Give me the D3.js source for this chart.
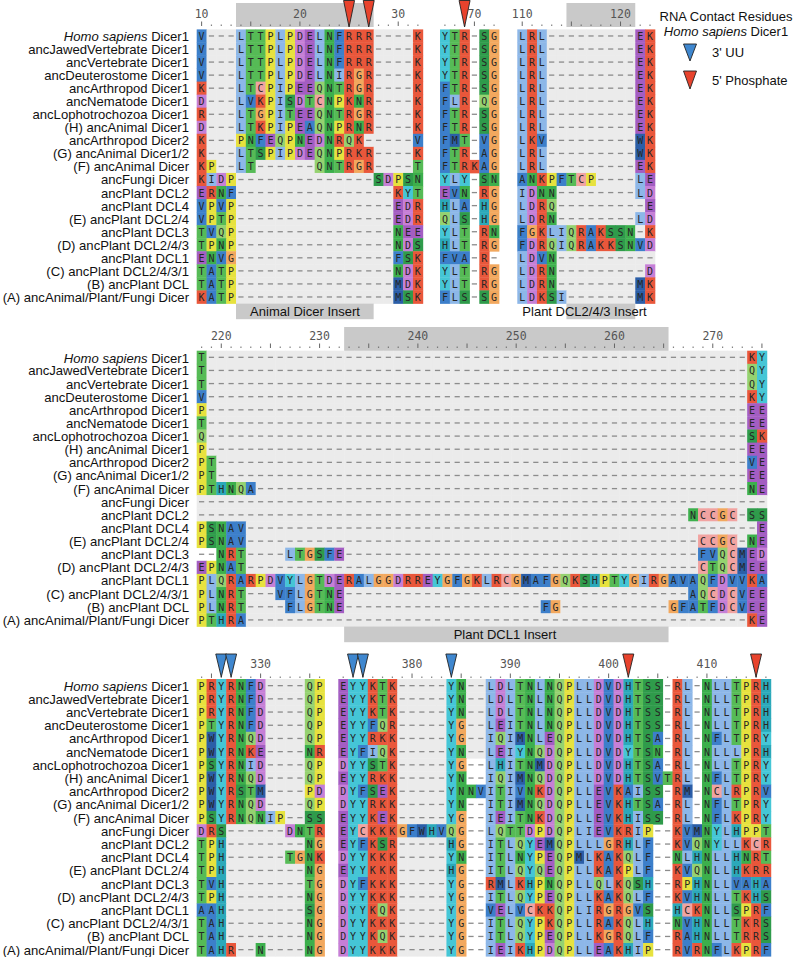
<!DOCTYPE html>
<html><head><meta charset="utf-8">
<script src="https://cdn.jsdelivr.net/npm/d3@7"></script>
<style>body{margin:0;background:#fff;} svg{display:block;}</style>
</head><body>
<svg id="chart" width="800" height="957"></svg>
<script>
// ---------------- DATA ----------------
const rowLabels = [
  "Homo sapiens Dicer1","ancJawedVertebrate Dicer1","ancVertebrate Dicer1","ancDeuterostome Dicer1",
  "ancArthropod Dicer1","ancNematode Dicer1","ancLophotrochozoa Dicer1","(H) ancAnimal Dicer1",
  "ancArthropod Dicer2","(G) ancAnimal Dicer1/2","(F) ancAnimal Dicer","ancFungi Dicer",
  "ancPlant DCL2","ancPlant DCL4","(E) ancPlant DCL2/4","ancPlant DCL3","(D) ancPlant DCL2/4/3",
  "ancPlant DCL1","(C) ancPlant DCL2/4/3/1","(B) ancPlant DCL","(A) ancAnimal/Plant/Fungi Dicer"
];
// '-' gap on shaded background, '.' gap on white background
const seqP1B1 = [ // positions 10-32
  "V---LTTPLPDELNFRRR----K","V---LTTPLPDELNFRRR----K","V---LTTPLPDELNFRRR----K","V---LTTPLPDELNIRGR----K",
  "K---LTCPIPEEQNTRGR----K","D---LVKPISDTCNPKNR----K","R---LTGPITEEQNTRGR----K","D---LTKPIPEAQNPRNR----K",
  "K---PNFEQPNEDNRQK-----V","K---LTSPIPDEQNPRKR----K","KP--LT------QNTRGR----T","KIDP--------------SDPSN",
  "ERNF----------------KYT","VPVP----------------EDR","VPTP----------------EDR","TVQP----------------NEE",
  "TPNP----------------NDS","ENVG----------------FSK","TATP----------------NDK","TATP----------------MDK",
  "KATP----------------MSK"
];
const seqP1B2 = [ // positions 67-72
  "YTR.SG","YTR.SG","YTR.SG","YTR.SG","FTR.SG","FLR.QG","FTR.SG","FTR.SG","FMT.VG","FTR.AG","FTRKAG",
  "YLY.SN","EVN.RG","HLA.HG","QLS.HG","YLT.RN","HLT.RG","FVA.R.","YLT.RG","YLT.RG","FLS.SG"
];
const seqP1B3 = [ // positions 110-123
  "LRL---------EK","LRL---------EK","LRL---------EK","LRL---------EK","LRL---------EK","LRL---------EK",
  "LRL---------EK","LRL---------EK","LKV---------WK","LRL---------WK","LRL---------EK","ANKPFTCP----LE",
  "IDNN--------LD","LDRQ---------E","LDRN--------LD","FGKLIQRAKSSN-K","FDRQIQRAKKSNVD","LDVN----------",
  "LDRN---------D","LDRN--------MK","LDKSI-------MK"
];
const G = n => "-".repeat(n);
const seqP2 = [ // positions 218-275
  "T"+G(55)+"KY","T"+G(55)+"QY","T"+G(55)+"QY","V"+G(55)+"KY","P"+G(55)+"EE","T"+G(55)+"EE",
  "Q"+G(55)+"SK","P"+G(55)+"EE","PT"+G(54)+"VE","PT"+G(54)+"EE","PTHNQA"+G(50)+"NE",G(58),
  G(50)+"NCCGC-SS","PSNAV"+G(52)+"E","PSNAV"+G(46)+"CCGC-NE","..NRT"+G(4)+"LTGSFE"+G(36)+"FVQCMED",
  "EPNAT"+G(46)+"CTQCMEE","PLQRARPDVYLGTDERALGGDRREYGFGKLRCGMAFGQKSHPTYGIRGAVAQFDVVKA",
  "PLNRT---VFLGTNE"+G(35)+"AQCDCVEE","PLNRT----FLGTNE"+G(20)+"FG"+G(11)+"GFATFDCVEE","PTHRA"+G(51)+"KE"
];
const seqP3B1 = [ // positions 324-336
  "PRYRNFD----QP","PRYRNFD----QP","PRYRNFD----QP","PTYRNFD----QP","PWYRNQD----QP","PWYRNKE----NR",
  "PSYRNID----QP","PWYRNQD----QP","PWYRSTM----PD","PWYRNQD----QP","PSYRNQNIP--SS","DRS------DNTR",
  "TPH--------NG","TPH------TGNK","TPH--------NG","TVH--------TG","TPH--------NG","AAH--------SG",
  "TAH--------NG","TAH--------NG","TAHR--N----NG"
];
const seqP3B2 = [ // positions 373-416
  "EYYKTK-----YN--LDLTNLNQPLLDVDHTSS.RL.NLLTPRH",
  "EYYKTK-----YN--LDLTNLNQPLLDVDHTSS.RL.NLLTPRH",
  "EYYKTK-----YN--LDLTNLNQPLLDVDHTSS.RL.NLLTPRH",
  "EYYFQR-----YG--LEITNLNQPLLDVDHTSS.RL.NLLTPRH",
  "EYYRKK-----YG--IQIMNLEQPLLDVDHTSA.RL.NFLTPRY",
  "EYFIQK-----YN--LEIYNQDQPLLDVDYTSN.RL.NLLLPRH",
  "DYYSTK-----YG..LHITNMDQPLLDVDHTSA.RL.NLLTPRY",
  "EYYRKK-----YN..IQIMNQDQPLLDVDHTSVTRL.NFLTPRY",
  "DYFSEK-----YNNVITIVNKDQPLLEVKAISS.RM.NCLRPRV",
  "DYYRKK-----YN..ITIMNQDQPLLEVKHTSA.RL.NFLTPRY",
  "EYYKEK-----YG..IEITNKDQPLLEVKHISS.RL.NFLKPRY",
  "EYCKKKGFWHVQG..LQTTDPDQPLIEVKRIP..KVMNYLHPPT",
  "EYFKSR-----HG..ITLQYEMQPLLLGRHLF..KVQNYLLKCR",
  "DYYKKK-----YN..ITLNYPEQPMLKAKQLF..NLHNLLHNRT",
  "EYYKKK-----HG..ITLQYQEQPLLKAKPLF..KVQNLLHKRR",
  "DYFKKK-----YG..RMLKHPNQPLLQLKQSH..RPHNLLVAHA",
  "DYYKKK-----YG..ITLQYPEQPLLKAKQLF..KVHNLLTKHS",
  "DYYKQK-----YG..VELVCKKQPLIRGRGVS..HCKNLLSPRF",
  "DYYKKK-----YG..ITLQYPKQPLLRAKQLH..NVHNLLTKRS",
  "DYYKQK-----YG..ITLQYPEQPLLKGRQLF..RAHNLLTRRS",
  "DYYKKK-----YG..IEIKHPDQPLLEAKHIP..RVRNFLKPRF"
];
const rulerLabelsP1 = [10,20,30,70,110,120];
const rulerLabelsP2 = [220,230,240,250,260,270];
const rulerLabelsP3 = [330,380,390,400,410];
const contactUU = [326,327,374,375,384];          // 3' UU
const contactPhosphate = [25,27,69,402,415];     // 5' Phosphate
const inserts = [
  {name:"Animal Dicer Insert", from:14, to:27},
  {name:"Plant DCL2/4/3 Insert", from:115, to:121},
  {name:"Plant DCL1 Insert", from:233, to:265}
];

// ---------------- LAYOUT / STYLE ----------------
const CW = 9.83;
const residueColors = {
  A:'#3c7fca', V:'#3c7fca', F:'#3c7fca', I:'#8db7e8', L:'#8db7e8', M:'#2b5ea7', W:'#2b5ea7',
  C:'#f1a3a1', K:'#e9573b', R:'#e9573b', D:'#c67fd6', E:'#a35dc2', N:'#3caf4c', T:'#56bb56',
  S:'#2f9b4b', Q:'#95d270', G:'#f2a85e', P:'#e7e23e', H:'#2ba9ba', Y:'#45c6d6'
};
const panels = [
  {top:29.4, pitch:13.05, tickY:25, numY:14, band:[3,27], box:[303.6,319.2], tri:[0.5,27], ruler:rulerLabelsP1},
  {top:350.7, pitch:13.13, tickY:347, numY:336, band:[327,351], box:[626.5,642.2], ruler:rulerLabelsP2},
  {top:679, pitch:13.2, tickY:677, numY:664, tri:[654,677], ruler:rulerLabelsP3}
];
const blocks = [
  {panel:0, start:10, seqs:seqP1B1, x0:196.7},
  {panel:0, start:67, seqs:seqP1B2, x0:440},
  {panel:0, start:110, seqs:seqP1B3, x0:517.3},
  {panel:1, start:218, seqs:seqP2, x0:196.7},
  {panel:2, start:324, seqs:seqP3B1, x0:196.7},
  {panel:2, start:373, seqs:seqP3B2, x0:338.3}
];
blocks.forEach(b => {
  const n = b.seqs[0].length;
  b.end = b.start + n - 1;
  b.x = d3.scaleBand().domain(d3.range(b.start, b.end + 1)).range([b.x0, b.x0 + n * CW]);
});
panels.forEach(p => {
  p.y = d3.scaleBand().domain(d3.range(rowLabels.length)).range([p.top, p.top + rowLabels.length * p.pitch]);
});
const findBlock = pos => blocks.find(b => pos >= b.start && pos <= b.end);

const svg = d3.select("#chart");
const monoFont = "'DejaVu Sans Mono', monospace";
const sansFont = "'Liberation Sans', Arial, sans-serif";

// header bands
inserts.forEach(ins => {
  const b = findBlock(ins.from), p = panels[b.panel];
  const x1 = b.x(ins.from), x2 = b.x(ins.to) + b.x.bandwidth();
  svg.append("rect").attr("x", x1).attr("y", p.band[0]).attr("width", x2 - x1)
    .attr("height", p.band[1] - p.band[0]).attr("fill", "#c9c9c9");
});

// rulers
blocks.forEach(b => {
  const p = panels[b.panel];
  const g = svg.append("g");
  b.x.domain().forEach(pos => {
    const cx = b.x(pos) + b.x.bandwidth() / 2;
    if (pos % 5 === 0) {
      g.append("rect").attr("x", cx - 0.5).attr("y", p.tickY - 3.5).attr("width", 1).attr("height", 4.5).attr("fill", "#666");
    } else {
      g.append("rect").attr("x", cx - 0.6).attr("y", p.tickY - 0.4).attr("width", 1.2).attr("height", 1.2).attr("fill", "#666");
    }
    if (p.ruler.includes(pos)) {
      g.append("text").attr("x", cx).attr("y", p.numY).attr("text-anchor", "middle")
        .attr("dominant-baseline", "central").attr("font-family", monoFont).attr("font-size", 11.5)
        .attr("fill", "#555").text(pos);
    }
  });
});

// alignment cells
blocks.forEach(b => {
  const p = panels[b.panel];
  const g = svg.append("g");
  const bw = b.x.bandwidth(), bh = p.y.bandwidth();
  b.seqs.forEach((s, r) => {
    s.split("").forEach((ch, i) => {
      const pos = b.start + i;
      const x = b.x(pos), y = p.y(r);
      if (ch === '-' || ch === '.') {
        if (ch === '-') g.append("rect").attr("x", x).attr("y", y).attr("width", bw + 0.4).attr("height", bh + 0.4).attr("fill", "#ebebeb");
        g.append("rect").attr("x", x + bw / 2 - 2.6).attr("y", y + bh / 2 - 0.6).attr("width", 5.2).attr("height", 1.3).attr("fill", "#8c8c8c");
      } else {
        g.append("rect").attr("x", x).attr("y", y).attr("width", bw + 0.4).attr("height", bh + 0.4).attr("fill", residueColors[ch] || "#ccc");
        g.append("text").attr("x", x + bw / 2).attr("y", y + bh / 2 + 0.5).attr("text-anchor", "middle")
          .attr("dominant-baseline", "central").attr("font-family", monoFont).attr("font-size", 10)
          .attr("fill", "#262626").text(ch);
      }
    });
  });
});

// row labels
panels.forEach(p => {
  const g = svg.append("g");
  rowLabels.forEach((lab, r) => {
    const t = g.append("text").attr("x", 189).attr("y", p.y(r) + p.y.bandwidth() / 2 + 0.5)
      .attr("text-anchor", "end").attr("dominant-baseline", "central")
      .attr("font-family", sansFont).attr("font-size", 13.1).attr("fill", "#111");
    if (lab.startsWith("Homo sapiens")) {
      t.append("tspan").attr("font-style", "italic").text("Homo sapiens");
      t.append("tspan").text(lab.replace("Homo sapiens", ""));
    } else t.text(lab);
  });
});

// insert label boxes
inserts.forEach(ins => {
  const b = findBlock(ins.from), p = panels[b.panel];
  const x1 = b.x(ins.from), x2 = b.x(ins.to) + b.x.bandwidth();
  svg.append("rect").attr("x", x1).attr("y", p.box[0]).attr("width", x2 - x1)
    .attr("height", p.box[1] - p.box[0]).attr("fill", "#c9c9c9");
});
const insertTextX = {"Animal Dicer Insert":305, "Plant DCL2/4/3 Insert":584.5, "Plant DCL1 Insert":505};
inserts.forEach(ins => {
  const b = findBlock(ins.from), p = panels[b.panel];
  svg.append("text").attr("x", insertTextX[ins.name]).attr("y", (p.box[0] + p.box[1]) / 2 + 0.5)
    .attr("text-anchor", "middle").attr("dominant-baseline", "central")
    .attr("font-family", sansFont).attr("font-size", 13).attr("fill", "#111").text(ins.name);
});

// contact triangles
function tri(g, cx, y0, y1, w, fill) {
  g.append("path").attr("d", `M${cx - w / 2},${y0}L${cx + w / 2},${y0}L${cx},${y1}Z`)
    .attr("fill", fill).attr("stroke", "#222").attr("stroke-width", 0.9).attr("stroke-linejoin", "round");
}
const triG = svg.append("g");
[[contactUU, "#3f87cf"], [contactPhosphate, "#e8432d"]].forEach(([list, col]) => {
  list.forEach(pos => {
    const b = findBlock(pos), p = panels[b.panel];
    tri(triG, b.x(pos) + b.x.bandwidth() / 2, p.tri[0], p.tri[1], 11, col);
  });
});

// legend
const lg = svg.append("g").attr("font-family", sansFont).attr("font-size", 13).attr("fill", "#111");
lg.append("text").attr("x", 726).attr("y", 16).attr("text-anchor", "middle").attr("dominant-baseline", "central").text("RNA Contact Residues");
const l2 = lg.append("text").attr("x", 726).attr("y", 31).attr("text-anchor", "middle").attr("dominant-baseline", "central");
l2.append("tspan").attr("font-style", "italic").text("Homo sapiens");
l2.append("tspan").text(" Dicer1");
tri(lg, 690, 44, 61, 13, "#3f87cf");
lg.append("text").attr("x", 712).attr("y", 52).attr("dominant-baseline", "central").text("3' UU");
tri(lg, 690, 71, 89, 13, "#e8432d");
lg.append("text").attr("x", 712).attr("y", 80).attr("dominant-baseline", "central").text("5' Phosphate");
</script>
</body></html>
